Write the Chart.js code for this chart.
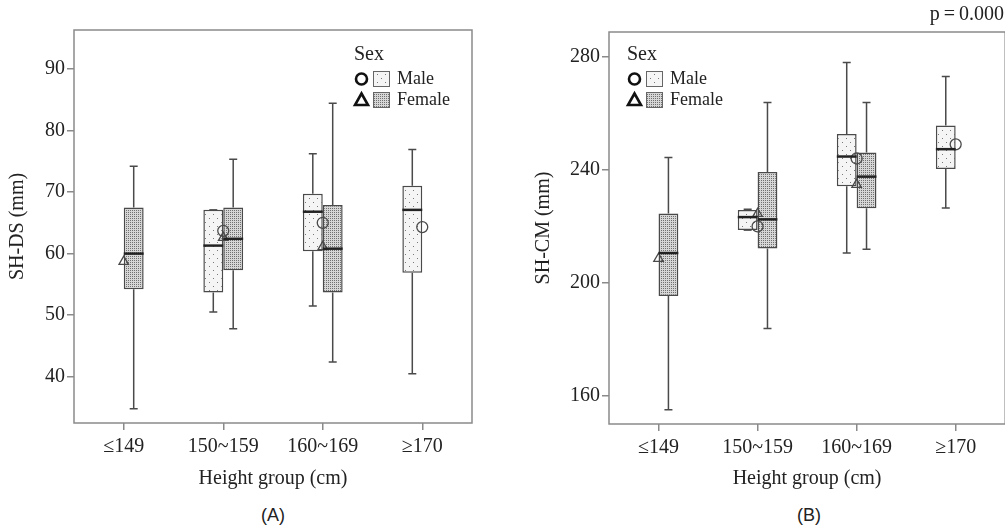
<!DOCTYPE html>
<html>
<head>
<meta charset="utf-8">
<script src="https://cdn.jsdelivr.net/npm/chart.js@4.4.1/dist/chart.umd.min.js"></script>
<style>
  body { margin: 0; background: #fff; width: 1005px; height: 529px; overflow: hidden; position: relative; font-family: 'Liberation Serif', serif; }
  canvas { position: absolute; top: 0; }
  #chartA { left: 0; }
  #chartB { left: 525px; }
  .tag { position: absolute; top: 505px; width: 60px; margin-left: -30px; text-align: center; font-family: 'Liberation Sans', Arial, sans-serif; font-size: 18px; line-height: 20px; color: #222; }
  #pval { position: absolute; right: 1px; top: 1px; font-size: 20px; line-height: 24px; color: #222; }
</style>
</head>
<body>
<canvas id="chartA" width="480" height="491"></canvas>
<canvas id="chartB" width="487" height="491"></canvas>
<div id="pval">p&#8201;=&#8201;0.000</div>
<div class="tag" style="left:273px">(A)</div>
<div class="tag" style="left:809px">(B)</div>
<script>
const heightGroups = ['≤149', '150~159', '160~169', '≥170'];

// SH-DS, each entry [min, Q1, median, Q3, max]
const dsMale = [null, [50.5, 53.7, 61.3, 67.1, 67.1], [51.5, 60.4, 66.8, 69.7, 76.2], [40.5, 56.9, 67.1, 71.0, 76.9]];
const dsFemale = [[34.8, 54.2, 60.0, 67.5, 74.2], [47.8, 57.3, 62.4, 67.5, 75.3], [42.4, 53.7, 60.8, 67.9, 84.4], null];
const dsMaleMean = [null, 63.7, 65.0, 64.3];
const dsFemaleMean = [58.7, 62.6, 61.1, null];
const dsTicks = [40, 50, 60, 70, 80, 90];

// SH-CM
const cmMale = [null, [218.6, 218.6, 223.2, 225.7, 226.0], [210.5, 234.1, 244.6, 252.6, 277.8], [226.4, 240.2, 247.2, 255.6, 272.9]];
const cmFemale = [[155.1, 195.3, 210.5, 224.5, 244.3], [183.8, 212.1, 222.4, 239.1, 263.7], [211.8, 226.3, 237.5, 246.0, 263.7], null];
const cmMaleMean = [null, 219.9, 243.9, 248.9];
const cmFemaleMean = [208.5, 224.4, 234.7, null];
const cmTicks = [160, 200, 240, 280];

const serif = "'Liberation Serif', 'Times New Roman', serif";
const ink = '#222';
const lineCol = '#4a4a4a';
const frameCol = '#8a8a8a';

function makePattern(bg, dot, size, pts) {
    const c = document.createElement('canvas');
    c.width = size;
    c.height = size;
    const g = c.getContext('2d');
    g.fillStyle = bg;
    g.fillRect(0, 0, size, size);
    g.fillStyle = dot;
    pts.forEach(p => g.fillRect(p[0], p[1], 1, 1));
    return g.createPattern(c, 'repeat');
}

const malePat = makePattern('#f5f5f5', '#7a7a7a', 8, [[1, 2], [5, 6]]);
const femalePat = makePattern('#d6d6d6', '#707070', 4, [[0, 0], [2, 2], [0, 2], [2, 0]]);

// whiskers, medians and the frame round the plot
const boxPlot = {
    id: 'boxPlot',
    beforeDatasetsDraw(chart, args, opts) {
        const ctx = chart.ctx;
        const y = chart.scales.y;
        ctx.save();
        ctx.strokeStyle = lineCol;
        ctx.lineWidth = 1.5;
        opts.summaries.forEach((series, di) => {
            chart.getDatasetMeta(di).data.forEach((el, i) => {
                const s = series[i];
                if (!s) return;
                const cap = 4;
                [[s[0], s[1]], [s[4], s[3]]].forEach(([end, edge]) => {
                    ctx.beginPath();
                    ctx.moveTo(el.x, y.getPixelForValue(edge));
                    ctx.lineTo(el.x, y.getPixelForValue(end));
                    ctx.moveTo(el.x - cap, y.getPixelForValue(end));
                    ctx.lineTo(el.x + cap, y.getPixelForValue(end));
                    ctx.stroke();
                });
            });
        });
        ctx.restore();
    },
    afterDatasetsDraw(chart, args, opts) {
        const ctx = chart.ctx;
        const y = chart.scales.y;
        ctx.save();
        ctx.strokeStyle = ink;
        ctx.lineWidth = 2.5;
        opts.summaries.forEach((series, di) => {
            chart.getDatasetMeta(di).data.forEach((el, i) => {
                const s = series[i];
                if (!s) return;
                const py = y.getPixelForValue(s[2]);
                ctx.beginPath();
                ctx.moveTo(el.x - el.width / 2, py);
                ctx.lineTo(el.x + el.width / 2, py);
                ctx.stroke();
            });
        });
        const a = chart.chartArea;
        ctx.strokeStyle = frameCol;
        ctx.lineWidth = 1.5;
        ctx.strokeRect(a.left, a.top, a.right - a.left, a.bottom - a.top);
        ctx.restore();
    }
};

// "Sex" legend with marker + fill swatch
const sexLegend = {
    id: 'sexLegend',
    afterDraw(chart, args, opts) {
        const ctx = chart.ctx;
        const ox = chart.chartArea.left + opts.x;
        const oy = chart.chartArea.top + opts.y;
        ctx.save();
        ctx.fillStyle = ink;
        ctx.textBaseline = 'middle';
        ctx.textAlign = 'left';
        ctx.font = '20px ' + serif;
        ctx.fillText('Sex', ox, oy);
        ctx.font = '18px ' + serif;
        const rows = [['Male', malePat, 24], ['Female', femalePat, 45]];
        rows.forEach(([name, pat, dy], k) => {
            const cy = oy + dy;
            const cx = ox + 7.5;
            ctx.strokeStyle = '#111';
            ctx.lineWidth = 2.6;
            ctx.beginPath();
            if (k === 0) {
                ctx.arc(cx, cy, 5.5, 0, Math.PI * 2);
            } else {
                ctx.moveTo(cx, cy - 6.5);
                ctx.lineTo(cx + 6.5, cy + 5);
                ctx.lineTo(cx - 6.5, cy + 5);
                ctx.closePath();
            }
            ctx.stroke();
            ctx.fillStyle = pat;
            ctx.fillRect(ox + 19, cy - 8, 17, 16);
            ctx.strokeStyle = '#666';
            ctx.lineWidth = 1;
            ctx.strokeRect(ox + 19.5, cy - 7.5, 16, 15);
            ctx.fillStyle = ink;
            ctx.fillText(name, ox + 43, cy);
        });
        ctx.restore();
    }
};

function buildChart(id, cfg) {
    const font = { family: serif, size: 20 };
    return new Chart(document.getElementById(id), {
        type: 'bar',
        data: {
            labels: heightGroups,
            datasets: [
                {
                    label: 'Male',
                    data: cfg.male.map(s => s ? [s[1], s[3]] : null),
                    backgroundColor: malePat,
                    borderColor: lineCol,
                    borderWidth: 1.5,
                    borderSkipped: false,
                    categoryPercentage: 0.4,
                    barPercentage: 1
                },
                {
                    label: 'Female',
                    data: cfg.female.map(s => s ? [s[1], s[3]] : null),
                    backgroundColor: femalePat,
                    borderColor: lineCol,
                    borderWidth: 1.5,
                    borderSkipped: false,
                    categoryPercentage: 0.4,
                    barPercentage: 1
                },
                {
                    type: 'line',
                    label: 'Male mean',
                    data: cfg.maleMean,
                    showLine: false,
                    pointStyle: 'circle',
                    pointRadius: 5.5,
                    pointBorderWidth: 1.3,
                    pointBorderColor: lineCol,
                    pointBackgroundColor: 'rgba(0,0,0,0)',
                    order: -1
                },
                {
                    type: 'line',
                    label: 'Female mean',
                    data: cfg.femaleMean,
                    showLine: false,
                    pointStyle: 'triangle',
                    pointRadius: 5.5,
                    pointBorderWidth: 1.3,
                    pointBorderColor: lineCol,
                    pointBackgroundColor: 'rgba(0,0,0,0)',
                    order: -1
                }
            ]
        },
        options: {
            responsive: false,
            animation: false,
            events: [],
            layout: { padding: { left: 0, top: cfg.padTop, right: cfg.padRight, bottom: 0 } },
            plugins: {
                legend: { display: false },
                tooltip: { enabled: false },
                boxPlot: { summaries: [cfg.male, cfg.female] },
                sexLegend: cfg.legend
            },
            scales: {
                x: {
                    offset: true,
                    grid: { offset: false, drawOnChartArea: false, tickLength: 7, color: frameCol, lineWidth: 1.5 },
                    border: { display: false },
                    ticks: { font: font, color: ink, padding: 5, maxRotation: 0 },
                    title: { display: true, text: 'Height group (cm)', font: font, color: ink, padding: 0 },
                    afterFit: s => { s.height = cfg.xHeight; }
                },
                y: {
                    min: cfg.min,
                    max: cfg.max,
                    afterBuildTicks: s => { s.ticks = cfg.ticks.map(v => ({ value: v })); },
                    grid: { drawOnChartArea: false, tickLength: 7, color: frameCol, lineWidth: 1.5 },
                    border: { display: false },
                    ticks: { font: font, color: ink, padding: 2 },
                    title: { display: true, text: cfg.yTitle, font: font, color: ink, padding: { top: cfg.yTitlePad, bottom: 0 } },
                    afterFit: s => { s.width = cfg.yWidth; }
                }
            }
        },
        plugins: [boxPlot, sexLegend]
    });
}

buildChart('chartA', {
    male: dsMale, female: dsFemale, maleMean: dsMaleMean, femaleMean: dsFemaleMean,
    ticks: dsTicks, min: 32.5, max: 96.3, yTitle: 'SH-DS (mm)',
    padTop: 30, padRight: 8, yWidth: 74, xHeight: 68, yTitlePad: 5.5,
    legend: { x: 280, y: 25 }
});

buildChart('chartB', {
    male: cmMale, female: cmFemale, maleMean: cmMaleMean, femaleMean: cmFemaleMean,
    ticks: cmTicks, min: 150.1, max: 288.6, yTitle: 'SH-CM (mm)',
    padTop: 32, padRight: 4, yWidth: 84, xHeight: 67, yTitlePad: 7,
    legend: { x: 18, y: 23 }
});
</script>
</body>
</html>
